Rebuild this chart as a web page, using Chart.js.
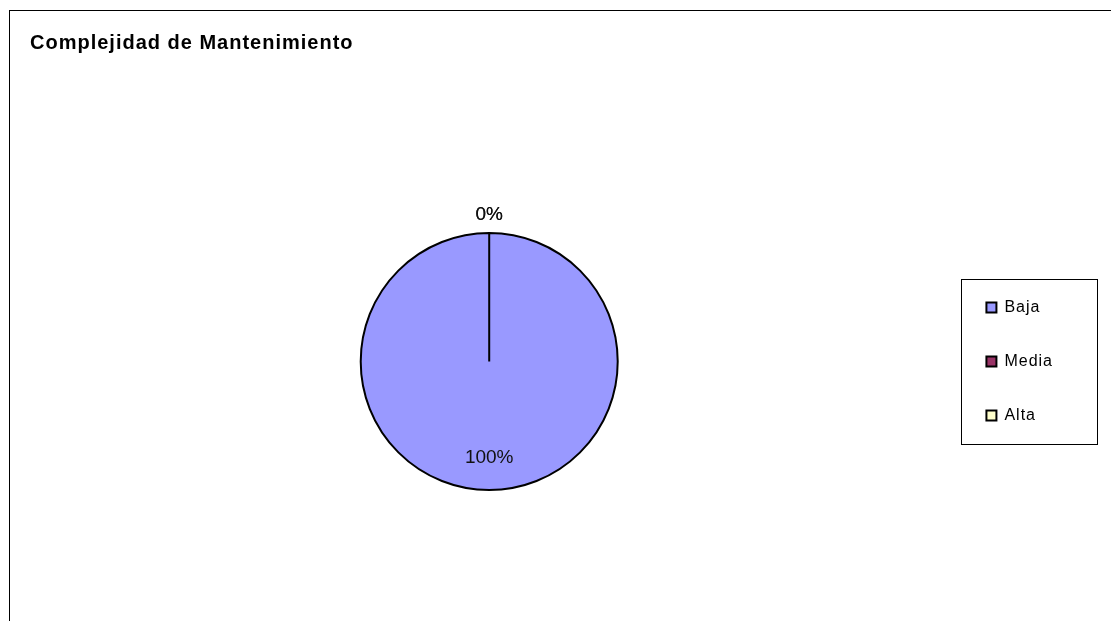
<!DOCTYPE html>
<html lang="es">
<head>
<meta charset="utf-8">
<title>Complejidad de Mantenimiento</title>
<script src="https://cdn.jsdelivr.net/npm/chart.js@4.4.1/dist/chart.umd.min.js"></script>
<style>
    html, body { margin: 0; padding: 0; background: #fff; overflow: hidden; }
    #marco { position: absolute; left: 9px; top: 10px; width: 1200px; height: 700px;
             border-left: 1px solid #000; border-top: 1px solid #000; }
    #contenedor { position: absolute; left: 0; top: 0; width: 1111px; height: 621px; }
</style>
</head>
<body>
<div id="marco"></div>
<div id="contenedor"><canvas id="graficoComplejidad"></canvas></div>
<script>
const tituloGrafico = 'Complejidad de Mantenimiento';
const categorias = ['Baja', 'Media', 'Alta'];
const valores = [100, 0, 0];
const coloresRelleno = ['#9999FF', '#993366', '#FFFFCC'];

document.addEventListener('DOMContentLoaded', function() {
    const fuente = '"Liberation Sans", Arial, sans-serif';

    // porcentaje de cada sector: dentro si tiene valor, fuera (arriba) si es 0
    const etiquetasPorcentaje = {
        id: 'etiquetasPorcentaje',
        afterDatasetsDraw(chart) {
            const meta = chart.getDatasetMeta(0);
            const datos = chart.data.datasets[0].data;
            const total = datos.reduce((a, b) => a + b, 0);
            const ctx = chart.ctx;
            ctx.save();
            ctx.letterSpacing = '0px';
            ctx.font = '19px ' + fuente;
            ctx.fillStyle = '#111';
            ctx.textAlign = 'center';
            ctx.textBaseline = 'middle';
            meta.data.forEach((arco, i) => {
                const p = arco.getProps(['x', 'y', 'startAngle', 'endAngle', 'outerRadius'], true);
                const medio = (p.startAngle + p.endAngle) / 2;
                const r = datos[i] > 0 ? p.outerRadius * 0.75 : p.outerRadius + 18;
                const texto = Math.round(datos[i] / total * 100) + '%';
                ctx.fillText(texto, p.x + Math.cos(medio) * r, p.y + Math.sin(medio) * r);
            });
            ctx.restore();
        }
    };

    // recuadro alrededor de la leyenda y espaciado de letras del texto
    const marcoLeyenda = {
        id: 'marcoLeyenda',
        beforeDraw(chart) {
            chart.ctx.letterSpacing = '1px';
        },
        afterDraw(chart) {
            const ctx = chart.ctx;
            ctx.letterSpacing = '0px';
            const cajas = chart.legend.legendHitBoxes;
            if (!cajas || !cajas.length) return;
            const primera = cajas[0];
            const ultima = cajas[cajas.length - 1];
            const izq = Math.round(primera.left - 25) + 0.5;
            const der = Math.round(primera.left + 111) + 0.5;
            const arriba = Math.round(primera.top - 21) + 0.5;
            const abajo = Math.round(ultima.top + ultima.height + 20) + 0.5;
            ctx.save();
            ctx.strokeStyle = '#000';
            ctx.lineWidth = 1;
            ctx.strokeRect(izq, arriba, der - izq, abajo - arriba);
            ctx.restore();
        }
    };

    const ctx = document.getElementById('graficoComplejidad').getContext('2d');
    new Chart(ctx, {
        type: 'pie',
        data: {
            labels: categorias,
            datasets: [{
                data: valores,
                backgroundColor: coloresRelleno,
                borderColor: '#000',
                borderWidth: 2
            }]
        },
        options: {
            responsive: true,
            maintainAspectRatio: false,
            animation: false,
            layout: {
                padding: { top: 20, bottom: 130, left: 30, right: 53 }
            },
            plugins: {
                title: {
                    display: true,
                    text: tituloGrafico,
                    align: 'start',
                    color: '#000',
                    font: { family: fuente, size: 20, weight: 'bold', lineHeight: 1.2 },
                    padding: { top: 11, bottom: 177 }
                },
                legend: {
                    position: 'right',
                    fullSize: false,
                    labels: {
                        color: '#000',
                        font: { family: fuente, size: 16 },
                        boxWidth: 10,
                        boxHeight: 10,
                        padding: 38
                    }
                },
                tooltip: { enabled: false }
            }
        },
        plugins: [etiquetasPorcentaje, marcoLeyenda]
    });
});
</script>
</body>
</html>
